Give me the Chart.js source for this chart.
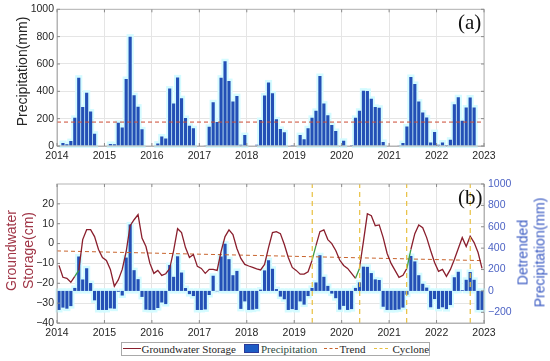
<!DOCTYPE html>
<html>
<head>
<meta charset="utf-8">
<script src="https://cdn.jsdelivr.net/npm/chart.js@4.4.1/dist/chart.umd.min.js"></script>
<style>
html,body{margin:0;padding:0;background:#fff;width:550px;height:361px;overflow:hidden;position:relative;}
canvas{position:absolute;left:0;}
#cTop{top:0;}
#cBot{top:170px;}
.rot{position:absolute;transform:rotate(-90deg);transform-origin:50% 50%;text-align:center;white-space:nowrap;font-family:"Liberation Sans",Arial,sans-serif;font-size:14px;}
.panel{position:absolute;font-family:"Liberation Serif","Times New Roman",serif;font-size:21px;line-height:21px;color:#111;}
#legend{position:absolute;left:120.5px;top:341.5px;width:309.5px;height:14px;border:1px solid #a9a9a9;box-sizing:border-box;background:#fff;font-family:"Liberation Serif","Times New Roman",serif;font-size:11px;color:#262626;}
#legend .t{position:absolute;top:0;line-height:12px;white-space:nowrap;}
#legend .s{position:absolute;}
</style>
</head>
<body>
<canvas id="cTop" width="550" height="170"></canvas>
<canvas id="cBot" width="550" height="170"></canvas>

<div class="rot" style="left:-78px;top:63px;width:200px;height:17px;line-height:17px;color:#262626;">Precipitation(mm)</div>
<div class="rot" style="left:-81px;top:234px;width:200px;height:33px;line-height:16.5px;color:#a03546;">Groundwater<br>Storage(cm)</div>
<div class="rot" style="left:431px;top:236px;width:200px;height:33px;line-height:16.5px;color:#3a5ac2;">Detrended<br>Precipitation(mm)</div>

<div class="panel" style="left:458px;top:12px;">(a)</div>
<div class="panel" style="left:458px;top:187px;">(b)</div>

<div id="legend">
  <div class="s" style="left:1px;top:5.5px;width:18px;border-top:1.4px solid #8a1f2d;"></div>
  <div class="t" style="left:20px;">Groundwater Storage</div>
  <div class="s" style="left:122px;top:1.5px;width:15px;height:9px;background:#1d5cc4;border:1px solid #2b3a99;box-sizing:border-box;"></div>
  <div class="t" style="left:139.5px;color:#2d4a3e;">Precipitation</div>
  <div class="s" style="left:202.5px;top:5.5px;width:14px;border-top:1.2px dashed #c8642d;"></div>
  <div class="t" style="left:218px;">Trend</div>
  <div class="s" style="left:252.5px;top:5.5px;width:14px;border-top:1.2px dashed #e8c040;"></div>
  <div class="t" style="left:271px;">Cyclone</div>
</div>

<script>
// ---------------- data ----------------
const startYear = 2014;
const yearTicks = [2014, 2015, 2016, 2017, 2018, 2019, 2020, 2021, 2022, 2023];
const precipTicks = [0, 200, 400, 600, 800, 1000];
const gwsTicks = [-40, -30, -20, -10, 0, 10, 20];
const detTicks = [-200, 0, 200, 400, 600, 800, 1000];

// monthly precipitation (mm), Jan 2014 .. Dec 2022
const precip = [
  0, 22, 12, 36, 206, 500, 285, 390, 252, 90, 0, 0,
  0, 15, 12, 170, 135, 490, 800, 372, 288, 122, 3, 0,
  0, 18, 70, 55, 420, 310, 502, 350, 205, 148, 130, 0,
  0, 5, 140, 320, 175, 500, 620, 475, 325, 365, 10, 80,
  0, 3, 10, 190, 370, 465, 385, 195, 125, 100, 0, 8,
  0, 80, 50, 130, 206, 257, 512, 310, 225, 153, 110, 3,
  38, 0, 8, 206, 258, 405, 403, 345, 286, 280, 30, 0,
  0, 0, 5, 22, 143, 505, 454, 325, 245, 209, 25, 102,
  10, 25, 8, 46, 306, 357, 185, 282, 355, 282, 0, 0
];

// detrended monthly precipitation (mm)
const detrended = [
  -178, -156, -166, -142, 28, 322, 107, 212, 74, -88, -178, -178,
  -178, -163, -166, -8, -43, 312, 622, 194, 110, -56, -175, -178,
  -178, -160, -108, -123, 242, 132, 324, 172, 27, -30, -48, -178,
  -178, -173, -38, 142, -3, 322, 442, 297, 147, 187, -168, -98,
  -178, -175, -168, 12, 192, 287, 207, 17, -53, -78, -178, -170,
  -178, -98, -128, -48, 28, 79, 334, 132, 47, -25, -68, -175,
  -140, -178, -170, 28, 80, 227, 225, 167, 108, 102, -148, -178,
  -178, -178, -173, -156, -35, 327, 276, 147, 67, 31, -153, -76,
  -168, -153, -170, -132, 128, 179, 7, 104, 177, 104, -178, -178
];

// groundwater storage (cm)
const gws = [
  -11, -17, -17.5, -19.5, -16.5, -13.5, 2, 7, 7, 3.5, -3, -7,
  -8.5, -13, -21.5, -18.3, -13, -4, 9, 12, 14.6, 2.8, -1.5, -10,
  -15, -13.5, -16, -15.2, -12.6, -3.5, 7.5, 5.5, -2, -7, -5.5, -11.5,
  -12.5, -15, -13, -13, -13.5, -4, 3.5, 6.9, 4.5, -2.5, -7.5, -10.5,
  -11.3, -12, -12.7, -13.3, -10.5, -2, 5.5, 6, 5, -0.5, -7, -12,
  -13.5, -15.4, -15.4, -14.2, -8.5, -1, 6, 6.9, 2, 0, -3.5, -8.3,
  -11, -12.5, -15, -17.5, -12.5, 1, 15, 14, 9, 9.4, 3, -5,
  -10, -13.5, -17, -16, -12.5, -3, 5, 9.4, 8, 3, -3.5, -9.5,
  -14, -13, -16.5, -13, -8, -2.5, 3, -1.5, 3.7, 0.5, -4.5, -12.5
];

const trendYears = [2014, 2023];
const trendTop = [175, 175];
const trendBottom = [-3.7, -8.6];
const cyclones = [2019.38, 2020.38, 2021.37, 2022.71];
const greenSegs = [4, 64, 75, 88];

// ---------------- helpers ----------------
const monthX = precip.map((_, i) => startYear + (i + 0.5) / 12);
const fmt = v => (v < 0 ? '\u2212' + Math.abs(v) : String(v));
const setTicks = arr => (s => { s.ticks = arr.map(v => ({ value: v })); });

Chart.defaults.font.family = '"Liberation Sans", Arial, sans-serif';
Chart.defaults.font.size = 10.5;
Chart.defaults.color = '#262626';
Chart.defaults.animation = false;

const GRID = '#e5e5e5';
const FRAME = '#b4b4b4';

const framePlugin = {
  id: 'frame',
  afterDraw(chart) {
    const { ctx, chartArea: a, scales } = chart;
    ctx.save();
    ctx.strokeStyle = FRAME;
    ctx.lineWidth = 1;
    ctx.strokeRect(a.left, a.top, a.right - a.left, a.bottom - a.top);
    ctx.strokeStyle = '#8a8a8a';
    const L = 3;
    scales.x.ticks.forEach(t => {
      const px = scales.x.getPixelForValue(t.value);
      ctx.beginPath();
      ctx.moveTo(px, a.bottom); ctx.lineTo(px, a.bottom - L);
      ctx.moveTo(px, a.top); ctx.lineTo(px, a.top + L);
      ctx.stroke();
    });
    const yl = scales.y;
    const yr = scales.y2 || scales.y;
    yl.ticks.forEach(t => {
      const py = yl.getPixelForValue(t.value);
      ctx.beginPath(); ctx.moveTo(a.left, py); ctx.lineTo(a.left + L, py); ctx.stroke();
    });
    yr.ticks.forEach(t => {
      const py = yr.getPixelForValue(t.value);
      ctx.beginPath(); ctx.moveTo(a.right, py); ctx.lineTo(a.right - L, py); ctx.stroke();
    });
    ctx.restore();
  }
};

// light cyan halo drawn under the bars
const haloPlugin = {
  id: 'halo',
  beforeDatasetDraw(chart, args) {
    if (args.meta.type !== 'bar') return;
    const ctx = chart.ctx;
    ctx.save();
    ctx.fillStyle = '#d4fbff';
    args.meta.data.forEach(el => {
      const p = el.getProps(['x', 'y', 'base', 'width'], true);
      const h = Math.abs(p.base - p.y);
      if (h < 1) return;
      const top = Math.min(p.y, p.base);
      ctx.fillRect(p.x - p.width / 2 - 2, top - 2.5, p.width + 4, h + 5);
    });
    ctx.restore();
  }
};

const xScale = (height, pad) => ({
  type: 'linear',
  min: startYear,
  max: 2023,
  offset: false,
  afterBuildTicks: setTicks(yearTicks),
  afterFit: s => { s.height = height; },
  grid: { color: GRID, drawTicks: false, offset: false },
  border: { color: FRAME },
  ticks: { callback: v => String(v), padding: pad, maxRotation: 0, autoSkip: false }
});

const barStyle = {
  backgroundColor: '#2450b6',
  borderWidth: 0,
  categoryPercentage: 1,
  barPercentage: 0.8
};

// ---------------- top chart ----------------
new Chart(document.getElementById('cTop'), {
  type: 'bar',
  data: {
    datasets: [
      {
        type: 'line',
        data: trendYears.map((x, i) => ({ x, y: trendTop[i] })),
        borderColor: '#cc4a33',
        borderWidth: 1,
        borderDash: [4, 3],
        pointRadius: 0,
        order: 0
      },
      Object.assign({
        type: 'bar',
        data: monthX.map((x, i) => ({ x, y: precip[i] })),
        order: 1
      }, barStyle)
    ]
  },
  options: {
    responsive: false,
    layout: { padding: { top: 8, right: 66, left: 0, bottom: 0 } },
    plugins: { legend: { display: false }, tooltip: { enabled: false } },
    scales: {
      x: xScale(24, 4),
      y: {
        type: 'linear',
        min: 0,
        max: 1000,
        afterBuildTicks: setTicks(precipTicks),
        afterFit: s => { s.width = 57; },
        grid: { color: GRID, drawTicks: false },
        border: { color: FRAME },
        ticks: { callback: v => fmt(v), padding: 3 }
      }
    }
  },
  plugins: [framePlugin, haloPlugin]
});

// ---------------- bottom chart ----------------
new Chart(document.getElementById('cBot'), {
  type: 'bar',
  data: {
    datasets: [
      ...cyclones.map(c => ({
        type: 'line',
        yAxisID: 'y',
        data: [{ x: c, y: -40 }, { x: c, y: 30 }],
        borderColor: '#e8c040',
        borderWidth: 1.2,
        borderDash: [5, 4],
        pointRadius: 0,
        order: 0
      })),
      {
        type: 'line',
        yAxisID: 'y',
        data: monthX.map((x, i) => ({ x, y: gws[i] })),
        borderColor: '#8a1f2d',
        borderWidth: 1.3,
        pointRadius: 0,
        tension: 0,
        segment: { borderColor: c => (greenSegs.includes(c.p0DataIndex) ? '#3d9a46' : undefined) },
        order: 1
      },
      {
        type: 'line',
        yAxisID: 'y',
        data: trendYears.map((x, i) => ({ x, y: trendBottom[i] })),
        borderColor: '#c8642d',
        borderWidth: 1,
        borderDash: [4, 3],
        pointRadius: 0,
        order: 2
      },
      Object.assign({
        type: 'bar',
        yAxisID: 'y2',
        data: monthX.map((x, i) => ({ x, y: detrended[i] })),
        order: 3
      }, barStyle)
    ]
  },
  options: {
    responsive: false,
    layout: { padding: { top: 14, right: 0, left: 0, bottom: 0 } },
    plugins: { legend: { display: false }, tooltip: { enabled: false } },
    scales: {
      x: xScale(17, 4),
      y: {
        type: 'linear',
        position: 'left',
        min: -40,
        max: 30,
        afterBuildTicks: setTicks(gwsTicks),
        afterFit: s => { s.width = 57; },
        grid: { color: GRID, drawTicks: false },
        border: { color: FRAME },
        ticks: { callback: v => fmt(v), padding: 3, color: '#262626' }
      },
      y2: {
        type: 'linear',
        position: 'right',
        min: -300,
        max: 1000,
        afterBuildTicks: setTicks(detTicks),
        afterFit: s => { s.width = 66; },
        grid: { display: false, drawTicks: false },
        border: { color: FRAME },
        ticks: { callback: v => fmt(v), padding: 4, color: '#4d63c4' }
      }
    }
  },
  plugins: [framePlugin, haloPlugin]
});
</script>
</body>
</html>
